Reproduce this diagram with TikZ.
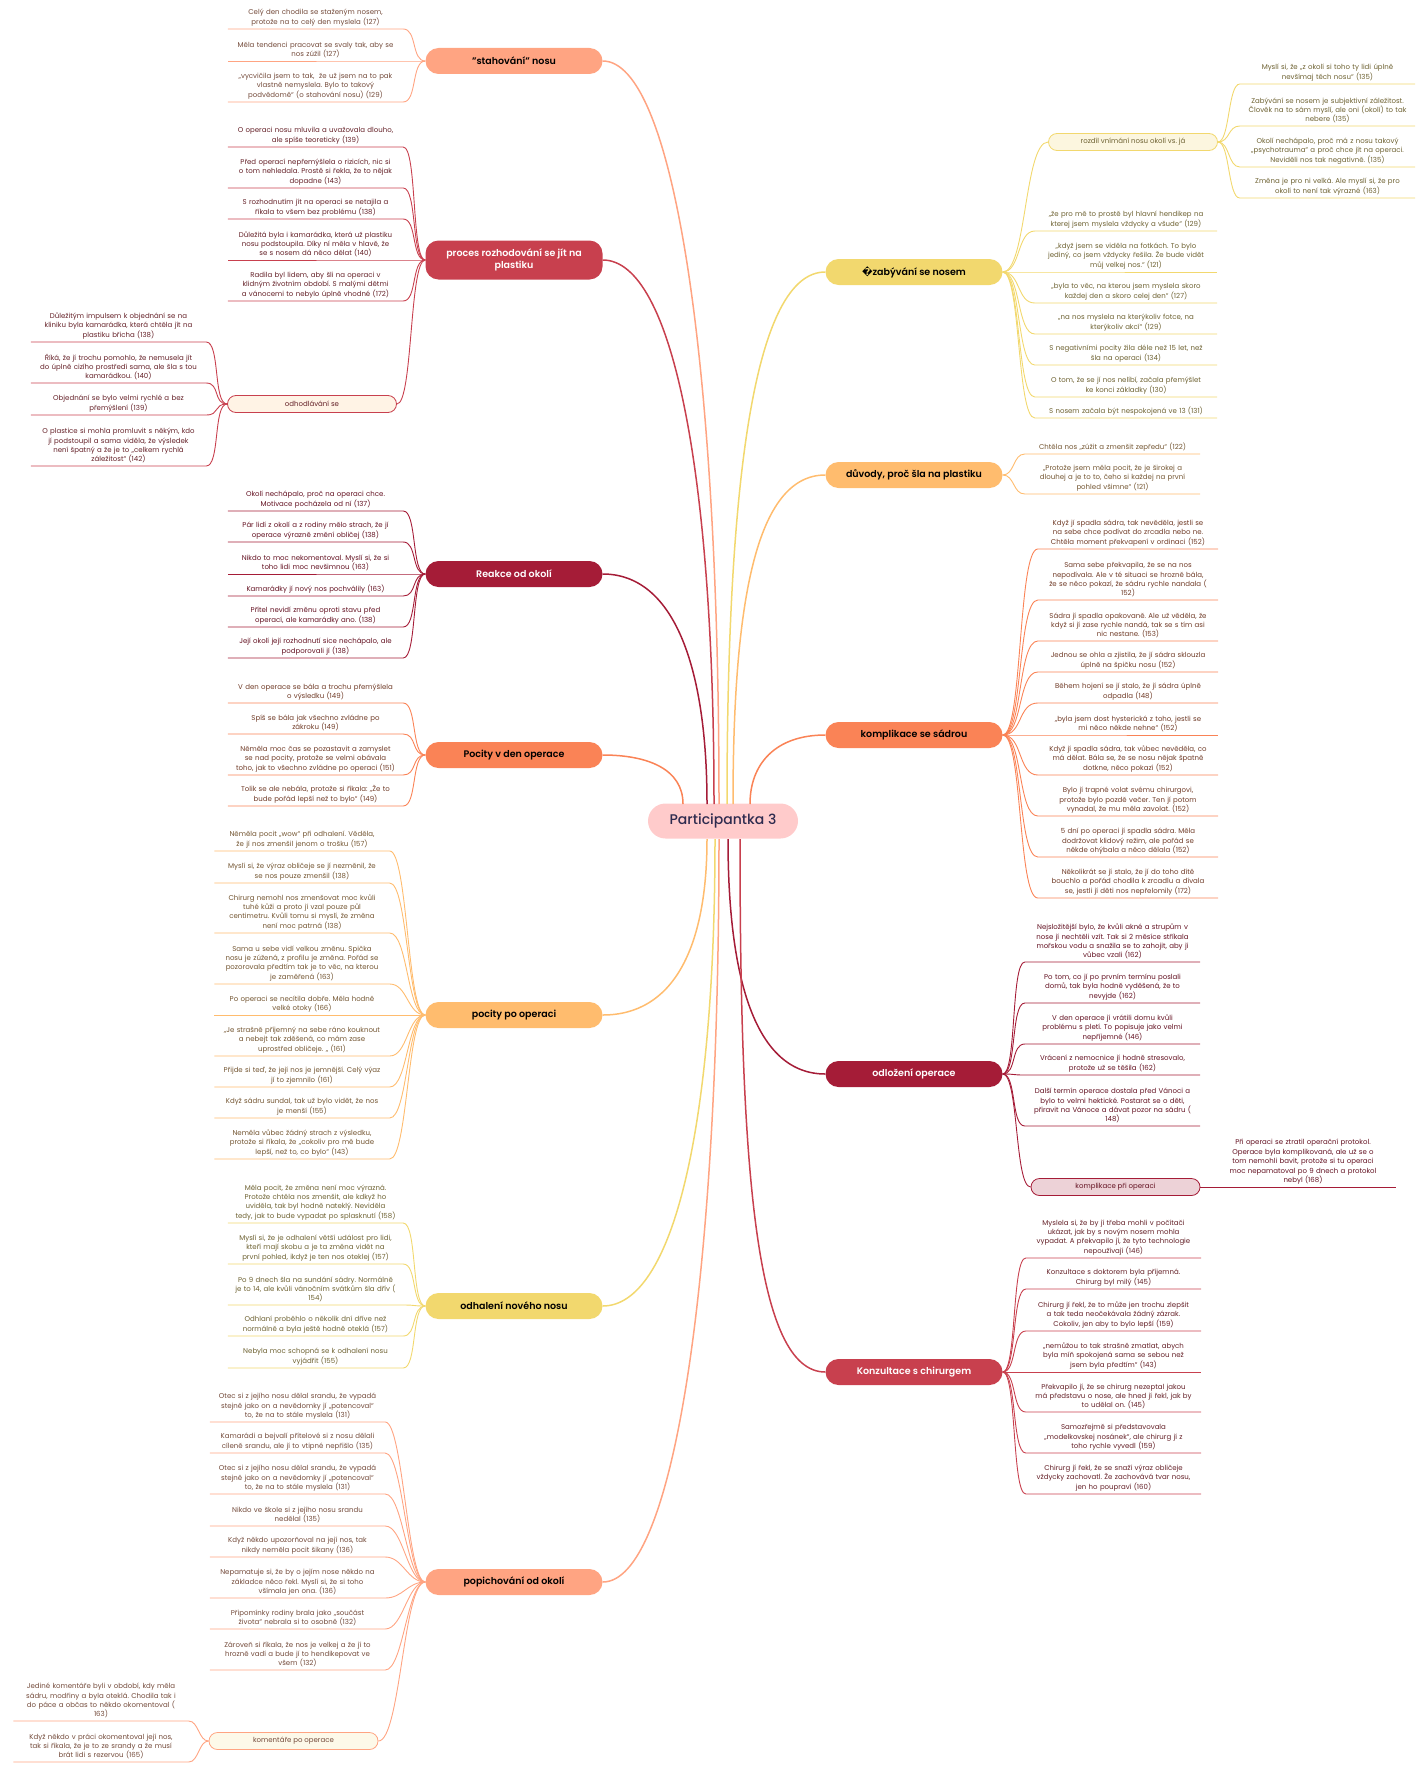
\documentclass[tikz,border=0pt]{standalone}
\usepackage{fontspec}
\setmainfont{Poppins}[BoldFont={Poppins SemiBold}]
\newfontfamily\medfont{Poppins Medium}
\newfontfamily\symfont{DejaVu Sans}
\usepackage{tikz}
\frenchspacing

\definecolor{cPink}{HTML}{FFCBCB}
\definecolor{cNavy}{HTML}{2E2B4F}
\definecolor{cSalmon}{HTML}{FFA482}
\definecolor{cRed}{HTML}{C8404E}
\definecolor{cCrimson}{HTML}{A51C37}
\definecolor{cOrange}{HTML}{FA8356}
\definecolor{cApricot}{HTML}{FFBC6E}
\definecolor{cYellow}{HTML}{F2D86E}
\colorlet{tSalmon}{cSalmon!45!black}
\colorlet{tRed}{cRed!50!black}
\colorlet{tCrimson}{cCrimson!60!black}
\colorlet{tOrange}{cOrange!45!black}
\colorlet{tApricot}{cApricot!45!black}
\colorlet{tYellow}{cYellow!45!black}

\begin{document}
\begin{tikzpicture}[x=1pt, y=-1pt,
        leafnode/.style={anchor=south, text width=171pt, inner xsep=2pt, inner ysep=2.6pt, align=center, font=\fontsize{7}{9.4}\selectfont, text=#1},
        topic/.style={fill=#1, rounded corners=13pt, minimum width=177pt, minimum height=26pt, inner sep=0pt, align=center, font=\fontsize{9.5}{12}\selectfont\bfseries},
        subtopic/.style={draw=#1, line width=0.8pt, rounded corners=8.5pt, minimum width=169pt, minimum height=17pt, inner sep=0pt, font=\fontsize{7}{9}\selectfont},
        trunkline/.style={draw=#1, line width=1.5pt},
        twigline/.style={draw=#1, line width=0.9pt}]
    \useasboundingbox (0,0) rectangle (1422,1766);

    % centre
    \node[fill=cPink, rounded corners=17.5pt, minimum width=150pt, minimum height=35pt, text=cNavy, font=\medfont\fontsize{14}{16}\selectfont] (p3) at (723,821) {Participantka 3};

    % "stahovani" nosu
    \node[topic=cSalmon] (stah) at (514,61) {"stahování" nosu};
    \draw[trunkline=cSalmon] (719,804) .. controls +(0,-450) and +(70,0) .. (stah.east);
    \node[leafnode=tSalmon] (stah1) at (315.5,29) {Celý den chodila se staženým nosem,\\protože na to celý den myslela (127)};
    \node[leafnode=tSalmon] (stah2) at (315.5,61) {Měla tendenci pracovat se svaly tak, aby se\\nos zúžil (127)};
    \node[leafnode=tSalmon] (stah3) at (315.5,102) {„vycvičila jsem to tak,~ že už jsem na to pak\\vlastně nemyslela. Bylo to takový\\podvědomě“ (o stahování nosu) (129)};
    \draw[twigline=cSalmon] (stah.west) .. controls +(-14,0) and +(14,0) .. (stah1.south east) -- (stah1.south west);
    \draw[twigline=cSalmon] (stah.west) .. controls +(-14,0) and +(14,0) .. (stah2.south east) -- (stah2.south west);
    \draw[twigline=cSalmon] (stah.west) .. controls +(-14,0) and +(14,0) .. (stah3.south east) -- (stah3.south west);

    % proces rozhodovani
    \node[topic=cRed, text=white, minimum height=39pt] (proc) at (514,260) {proces rozhodování se jít na\\plastiku};
    \draw[trunkline=cRed] (714,804) .. controls +(0,-330) and +(70,0) .. (proc.east);
    \node[leafnode=tRed] (proc1) at (315.5,147) {O operaci nosu mluvila a uvažovala dlouho,\\ale spíše teoreticky (139)};
    \node[leafnode=tRed] (proc2) at (315.5,188) {Před operací nepřemýšlela o rizicích, nic si\\o tom nehledala. Prostě si řekla, že to nějak\\dopadne (143)};
    \node[leafnode=tRed] (proc3) at (315.5,219) {S rozhodnutím jít na operaci se netajila a\\říkala to všem bez problému (138)};
    \node[leafnode=tRed] (proc4) at (315.5,260) {Důležitá byla i kamarádka, která už plastiku\\nosu podstoupila. Díky ní měla v hlavě, že\\se s nosem dá něco dělat (140)};
    \node[leafnode=tRed] (proc5) at (315.5,301) {Radila byl lidem, aby šli na operaci v\\klidným životním období. S malými dětmi\\a vánocemi to nebylo úplně vhodné (172)};
    \draw[twigline=cRed] (proc.west) .. controls +(-14,0) and +(14,0) .. (proc1.south east) -- (proc1.south west);
    \draw[twigline=cRed] (proc.west) .. controls +(-14,0) and +(14,0) .. (proc2.south east) -- (proc2.south west);
    \draw[twigline=cRed] (proc.west) .. controls +(-14,0) and +(14,0) .. (proc3.south east) -- (proc3.south west);
    \draw[twigline=cRed] (proc.west) .. controls +(-14,0) and +(14,0) .. (proc4.south east) -- (proc4.south west);
    \draw[twigline=cRed] (proc.west) .. controls +(-14,0) and +(14,0) .. (proc5.south east) -- (proc5.south west);

    % odhodlavani se
    \node[subtopic=cRed, fill=cApricot!18, text=tRed] (odhod) at (312,404) {odhodlávání se};
    \draw[twigline=cRed] (proc.west) .. controls +(-16,0) and +(16,0) .. (odhod.east);
    \node[leafnode=tRed] (odhod1) at (118.5,342) {Důležitým impulsem k objednání se na\\kliniku byla kamarádka, která chtěla jít na\\plastiku břicha (138)};
    \node[leafnode=tRed] (odhod2) at (118.5,383) {Říká, že jí trochu pomohlo, že nemusela jít\\do úplně cizího prostředí sama, ale šla s tou\\kamarádkou. (140)};
    \node[leafnode=tRed] (odhod3) at (118.5,415) {Objednání se bylo velmi rychlé a bez\\přemýšlení (139)};
    \node[leafnode=tRed] (odhod4) at (118.5,466) {O plastice si mohla promluvit s někým, kdo\\jí podstoupil a sama viděla, že výsledek\\není špatný a že je to „celkem rychlá\\záležitost“ (142)};
    \draw[twigline=cRed] (odhod.west) .. controls +(-14,0) and +(14,0) .. (odhod1.south east) -- (odhod1.south west);
    \draw[twigline=cRed] (odhod.west) .. controls +(-14,0) and +(14,0) .. (odhod2.south east) -- (odhod2.south west);
    \draw[twigline=cRed] (odhod.west) .. controls +(-14,0) and +(14,0) .. (odhod3.south east) -- (odhod3.south west);
    \draw[twigline=cRed] (odhod.west) .. controls +(-14,0) and +(14,0) .. (odhod4.south east) -- (odhod4.south west);

    % Reakce od okoli
    \node[topic=cCrimson, text=white] (reak) at (514,574) {Reakce od okolí};
    \draw[trunkline=cCrimson] (707,804) .. controls +(0,-140) and +(70,0) .. (reak.east);
    \node[leafnode=tCrimson] (reak1) at (315.5,511) {Okolí nechápalo, proč na operaci chce.\\Motivace pocházela od ní (137)};
    \node[leafnode=tCrimson] (reak2) at (315.5,542) {Pár lidí z okolí a z rodiny mělo strach, že jí\\operace výrazně změní obličej (138)};
    \node[leafnode=tCrimson] (reak3) at (315.5,574) {Nikdo to moc nekomentoval. Myslí si, že si\\toho lidi moc nevšimnou (163)};
    \node[leafnode=tCrimson] (reak4) at (315.5,596) {Kamarádky jí nový nos pochválily (163)};
    \node[leafnode=tCrimson] (reak5) at (315.5,627) {Přítel nevidí změnu oproti stavu před\\operací, ale kamarádky ano. (138)};
    \node[leafnode=tCrimson] (reak6) at (315.5,658) {Její okolí její rozhodnutí sice nechápalo, ale\\podporovali jí (138)};
    \draw[twigline=cCrimson] (reak.west) .. controls +(-14,0) and +(14,0) .. (reak1.south east) -- (reak1.south west);
    \draw[twigline=cCrimson] (reak.west) .. controls +(-14,0) and +(14,0) .. (reak2.south east) -- (reak2.south west);
    \draw[twigline=cCrimson] (reak.west) .. controls +(-14,0) and +(14,0) .. (reak3.south east) -- (reak3.south west);
    \draw[twigline=cCrimson] (reak.west) .. controls +(-14,0) and +(14,0) .. (reak4.south east) -- (reak4.south west);
    \draw[twigline=cCrimson] (reak.west) .. controls +(-14,0) and +(14,0) .. (reak5.south east) -- (reak5.south west);
    \draw[twigline=cCrimson] (reak.west) .. controls +(-14,0) and +(14,0) .. (reak6.south east) -- (reak6.south west);

    % Pocity v den operace
    \node[topic=cOrange] (pden) at (514,755) {Pocity v den operace};
    \draw[trunkline=cOrange] (683,804) .. controls +(0,-35) and +(45,0) .. (pden.east);
    \node[leafnode=tOrange] (pden1) at (315.5,703) {V den operace se bála a trochu přemýšlela\\o výsledku (149)};
    \node[leafnode=tOrange] (pden2) at (315.5,734) {Spíš se bála jak všechno zvládne po\\zákroku (149)};
    \node[leafnode=tOrange] (pden3) at (315.5,775) {Něměla moc čas se pozastavit a zamyslet\\se nad pocity, protože se velmi obávala\\toho, jak to všechno zvládne po operaci (151)};
    \node[leafnode=tOrange] (pden4) at (315.5,806) {Tolik se ale nebála, protože si říkala: „Že to\\bude pořád lepší než to bylo“ (149)};
    \draw[twigline=cOrange] (pden.west) .. controls +(-14,0) and +(14,0) .. (pden1.south east) -- (pden1.south west);
    \draw[twigline=cOrange] (pden.west) .. controls +(-14,0) and +(14,0) .. (pden2.south east) -- (pden2.south west);
    \draw[twigline=cOrange] (pden.west) .. controls +(-14,0) and +(14,0) .. (pden3.south east) -- (pden3.south west);
    \draw[twigline=cOrange] (pden.west) .. controls +(-14,0) and +(14,0) .. (pden4.south east) -- (pden4.south west);

    % pocity po operaci
    \node[topic=cApricot] (ppo) at (514,1015) {pocity po operaci};
    \draw[trunkline=cApricot] (707,839) .. controls +(0,110) and +(70,0) .. (ppo.east);
    \node[leafnode=tApricot] (ppo1) at (302,851) {Něměla pocit „wow“ při odhalení. Věděla,\\že jí nos zmenšil jenom o trošku (157)};
    \node[leafnode=tApricot] (ppo2) at (302,883) {Myslí si, že výraz obličeje se jí nezměnil, že\\se nos pouze zmenšil (138)};
    \node[leafnode=tApricot] (ppo3) at (302,933) {Chirurg nemohl nos zmenšovat moc kvůli\\tuhé kůži a proto jí vzal pouze půl\\centimetru. Kvůli tomu si myslí, že změna\\není moc patrná (138)};
    \node[leafnode=tApricot] (ppo4) at (302,984) {Sama u sebe vidí velkou změnu. Spička\\nosu je zúžená, z profilu je změna. Pořád se\\pozorovala předtím tak je to věc, na kterou\\je zaměřená (163)};
    \node[leafnode=tApricot] (ppo5) at (302,1015) {Po operaci se necítila dobře. Měla hodně\\velké otoky (166)};
    \node[leafnode=tApricot] (ppo6) at (302,1056) {„Je strašně příjemný na sebe ráno kouknout\\a nebejt tak zděšená, co mám zase\\uprostřed obličeje. „ (161)};
    \node[leafnode=tApricot] (ppo7) at (302,1087) {Přijde si teď, že její nos je jemnější. Celý výaz\\jí to zjemnilo (161)};
    \node[leafnode=tApricot] (ppo8) at (302,1118) {Když sádru sundal, tak už bylo vidět, že nos\\je menší (155)};
    \node[leafnode=tApricot] (ppo9) at (302,1159) {Neměla vůbec žádný strach z výsledku,\\protože si říkala, že „cokoliv pro mě bude\\lepší, než to, co bylo“ (143)};
    \draw[twigline=cApricot] (ppo.west) .. controls +(-18,0) and +(18,0) .. (ppo1.south east) -- (ppo1.south west);
    \draw[twigline=cApricot] (ppo.west) .. controls +(-18,0) and +(18,0) .. (ppo2.south east) -- (ppo2.south west);
    \draw[twigline=cApricot] (ppo.west) .. controls +(-18,0) and +(18,0) .. (ppo3.south east) -- (ppo3.south west);
    \draw[twigline=cApricot] (ppo.west) .. controls +(-18,0) and +(18,0) .. (ppo4.south east) -- (ppo4.south west);
    \draw[twigline=cApricot] (ppo.west) .. controls +(-18,0) and +(18,0) .. (ppo5.south east) -- (ppo5.south west);
    \draw[twigline=cApricot] (ppo.west) .. controls +(-18,0) and +(18,0) .. (ppo6.south east) -- (ppo6.south west);
    \draw[twigline=cApricot] (ppo.west) .. controls +(-18,0) and +(18,0) .. (ppo7.south east) -- (ppo7.south west);
    \draw[twigline=cApricot] (ppo.west) .. controls +(-18,0) and +(18,0) .. (ppo8.south east) -- (ppo8.south west);
    \draw[twigline=cApricot] (ppo.west) .. controls +(-18,0) and +(18,0) .. (ppo9.south east) -- (ppo9.south west);

    % odhaleni noveho nosu
    \node[topic=cYellow] (odh) at (514,1306) {odhalení nového nosu};
    \draw[trunkline=cYellow] (715,839) .. controls +(0,290) and +(70,0) .. (odh.east);
    \node[leafnode=tYellow] (odh1) at (315.5,1223) {Měla pocit, že změna není moc výrazná.\\Protože chtěla nos zmenšit, ale kdkyž ho\\uviděla, tak byl hodně nateklý. Neviděla\\tedy, jak to bude vypadat po splasknutí (158)};
    \node[leafnode=tYellow] (odh2) at (315.5,1264) {Myslí si, že je odhalení větší událost pro lidi,\\kteří mají skobu a je ta změna vidět na\\první pohled, ikdyž je ten nos oteklej (157)};
    \node[leafnode=tYellow] (odh3) at (315.5,1305) {Po 9 dnech šla na sundání sádry. Normálně\\je to 14, ale kvůli vánočním svátkům šla dřív (\\154)};
    \node[leafnode=tYellow] (odh4) at (315.5,1336) {Odhlaní proběhlo o několik dní dříve než\\normálně a byla ještě hodně oteklá (157)};
    \node[leafnode=tYellow] (odh5) at (315.5,1368) {Nebyla moc schopná se k odhalení nosu\\vyjádřit (155)};
    \draw[twigline=cYellow] (odh.west) .. controls +(-14,0) and +(14,0) .. (odh1.south east) -- (odh1.south west);
    \draw[twigline=cYellow] (odh.west) .. controls +(-14,0) and +(14,0) .. (odh2.south east) -- (odh2.south west);
    \draw[twigline=cYellow] (odh.west) .. controls +(-14,0) and +(14,0) .. (odh3.south east) -- (odh3.south west);
    \draw[twigline=cYellow] (odh.west) .. controls +(-14,0) and +(14,0) .. (odh4.south east) -- (odh4.south west);
    \draw[twigline=cYellow] (odh.west) .. controls +(-14,0) and +(14,0) .. (odh5.south east) -- (odh5.south west);

    % popichovani od okoli
    \node[topic=cSalmon] (pop) at (514,1582) {popichování od okolí};
    \draw[trunkline=cSalmon] (719,839) .. controls +(0,450) and +(70,0) .. (pop.east);
    \node[leafnode=tSalmon] (pop1) at (297.5,1422) {Otec si z jejího nosu dělal srandu, že vypadá\\stejně jako on a nevědomky jí „potencoval“\\to, že na to stále myslela (131)};
    \node[leafnode=tSalmon] (pop2) at (297.5,1453) {Kamarádi a bejvalí přítelové si z nosu dělali\\cíleně srandu, ale jí to vtipné nepřišlo (135)};
    \node[leafnode=tSalmon] (pop3) at (297.5,1494) {Otec si z jejího nosu dělal srandu, že vypadá\\stejně jako on a nevědomky jí „potencoval“\\to, že na to stále myslela (131)};
    \node[leafnode=tSalmon] (pop4) at (297.5,1526) {Nikdo ve škole si z jejího nosu srandu\\nedělal (135)};
    \node[leafnode=tSalmon] (pop5) at (297.5,1557) {Když někdo upozorňoval na její nos, tak\\nikdy neměla pocit šikany (136)};
    \node[leafnode=tSalmon] (pop6) at (297.5,1598) {Nepamatuje si, že by o jejím nose někdo na\\základce něco řekl. Myslí si, že si toho\\všímala jen ona. (136)};
    \node[leafnode=tSalmon] (pop7) at (297.5,1629) {Připomínky rodiny brala jako „součást\\života“ nebrala si to osobně (132)};
    \node[leafnode=tSalmon] (pop8) at (297.5,1670) {Zároveň si říkala, že nos je velkej a že jí to\\hrozně vadí a bude jí to hendikepovat ve\\všem (132)};
    \draw[twigline=cSalmon] (pop.west) .. controls +(-18,0) and +(18,0) .. (pop1.south east) -- (pop1.south west);
    \draw[twigline=cSalmon] (pop.west) .. controls +(-18,0) and +(18,0) .. (pop2.south east) -- (pop2.south west);
    \draw[twigline=cSalmon] (pop.west) .. controls +(-18,0) and +(18,0) .. (pop3.south east) -- (pop3.south west);
    \draw[twigline=cSalmon] (pop.west) .. controls +(-18,0) and +(18,0) .. (pop4.south east) -- (pop4.south west);
    \draw[twigline=cSalmon] (pop.west) .. controls +(-18,0) and +(18,0) .. (pop5.south east) -- (pop5.south west);
    \draw[twigline=cSalmon] (pop.west) .. controls +(-18,0) and +(18,0) .. (pop6.south east) -- (pop6.south west);
    \draw[twigline=cSalmon] (pop.west) .. controls +(-18,0) and +(18,0) .. (pop7.south east) -- (pop7.south west);
    \draw[twigline=cSalmon] (pop.west) .. controls +(-18,0) and +(18,0) .. (pop8.south east) -- (pop8.south west);

    % komentare po operace
    \node[subtopic=cSalmon, fill=cYellow!15, text=tSalmon] (kom) at (293.5,1741) {komentáře po operace};
    \draw[twigline=cSalmon] (pop.west) .. controls +(-22,0) and +(22,0) .. (kom.east);
    \node[leafnode=tSalmon] (kom1) at (101,1721) {Jediné komentáře byli v období, kdy měla\\sádru, modřiny a byla oteklá. Chodila tak i\\do páce a občas to někdo okomentoval (\\163)};
    \node[leafnode=tSalmon] (kom2) at (101,1762) {Když někdo v práci okomentoval její nos,\\tak si říkala, že je to ze srandy a že musí\\brát lidi s rezervou (165)};
    \draw[twigline=cSalmon] (kom.west) .. controls +(-10,0) and +(10,0) .. (kom1.south east) -- (kom1.south west);
    \draw[twigline=cSalmon] (kom.west) .. controls +(-10,0) and +(10,0) .. (kom2.south east) -- (kom2.south west);

    % zabyvani se nosem
    \node[topic=cYellow] (zab) at (914,272) {{\symfont\bfseries ^^^^fffd}zabývání se nosem};
    \draw[trunkline=cYellow] (727,804) .. controls +(0,-330) and +(-70,0) .. (zab.west);
    \node[leafnode=tYellow, text width=178pt] (zab1) at (1126,231) {„že pro mě to prostě byl hlavní hendikep na\\kterej jsem myslela vždycky a všude“ (129)};
    \node[leafnode=tYellow, text width=178pt] (zab2) at (1126,272) {„když jsem se viděla na fotkách. To bylo\\jediný, co jsem vždycky řešila. Že bude vidět\\můj velkej nos.“ (121)};
    \node[leafnode=tYellow, text width=178pt] (zab3) at (1126,303) {„byla to věc, na kterou jsem myslela skoro\\každej den a skoro celej den“ (127)};
    \node[leafnode=tYellow, text width=178pt] (zab4) at (1126,334) {„na nos myslela na kterýkoliv fotce, na\\kterýkoliv akcí“ (129)};
    \node[leafnode=tYellow, text width=178pt] (zab5) at (1126,365) {S negativními pocity žila déle než 15 let, než\\šla na operaci (134)};
    \node[leafnode=tYellow, text width=178pt] (zab6) at (1126,397) {O tom, že se jí nos nelíbí, začala přemýšlet\\ke konci základky (130)};
    \node[leafnode=tYellow, text width=178pt] (zab7) at (1126,418) {S nosem začala být nespokojená ve 13 (131)};
    \draw[twigline=cYellow] (zab.east) .. controls +(18,0) and +(-18,0) .. (zab1.south west) -- (zab1.south east);
    \draw[twigline=cYellow] (zab.east) .. controls +(18,0) and +(-18,0) .. (zab2.south west) -- (zab2.south east);
    \draw[twigline=cYellow] (zab.east) .. controls +(18,0) and +(-18,0) .. (zab3.south west) -- (zab3.south east);
    \draw[twigline=cYellow] (zab.east) .. controls +(18,0) and +(-18,0) .. (zab4.south west) -- (zab4.south east);
    \draw[twigline=cYellow] (zab.east) .. controls +(18,0) and +(-18,0) .. (zab5.south west) -- (zab5.south east);
    \draw[twigline=cYellow] (zab.east) .. controls +(18,0) and +(-18,0) .. (zab6.south west) -- (zab6.south east);
    \draw[twigline=cYellow] (zab.east) .. controls +(18,0) and +(-18,0) .. (zab7.south west) -- (zab7.south east);

    % rozdil vnimani
    \node[subtopic=cYellow, fill=cYellow!22, text=tYellow] (rozd) at (1133,142) {rozdíl vnímání nosu okolí vs. já};
    \draw[twigline=cYellow] (zab.east) .. controls +(24,0) and +(-24,0) .. (rozd.west);
    \node[leafnode=tYellow] (rozd1) at (1327.5,84) {Myslí si, že „z okolí si toho ty lidi úplně\\nevšímaj těch nosu“ (135)};
    \node[leafnode=tYellow] (rozd2) at (1327.5,126) {Zabývání se nosem je subjektivní záležitost.\\Člověk na to sám myslí, ale oni (okolí) to tak\\nebere (135)};
    \node[leafnode=tYellow] (rozd3) at (1327.5,167) {Okolí nechápalo, proč má z nosu takový\\„psychotrauma“ a proč chce jít na operaci.\\Neviděli nos tak negativně. (135)};
    \node[leafnode=tYellow] (rozd4) at (1327.5,198) {Změna je pro ni velká. Ale myslí si, že pro\\okolí to není tak výrazné (163)};
    \draw[twigline=cYellow] (rozd.east) .. controls +(12,0) and +(-12,0) .. (rozd1.south west) -- (rozd1.south east);
    \draw[twigline=cYellow] (rozd.east) .. controls +(12,0) and +(-12,0) .. (rozd2.south west) -- (rozd2.south east);
    \draw[twigline=cYellow] (rozd.east) .. controls +(12,0) and +(-12,0) .. (rozd3.south west) -- (rozd3.south east);
    \draw[twigline=cYellow] (rozd.east) .. controls +(12,0) and +(-12,0) .. (rozd4.south west) -- (rozd4.south east);

    % duvody
    \node[topic=cApricot] (duv) at (914,475) {důvody, proč šla na plastiku};
    \draw[trunkline=cApricot] (733,804) .. controls +(0,-200) and +(-70,0) .. (duv.west);
    \node[leafnode=tApricot] (duv1) at (1112.5,454) {Chtěla nos „zúžit a zmenšit zepředu“ (122)};
    \node[leafnode=tApricot] (duv2) at (1112.5,494) {„Protože jsem měla pocit, že je širokej a\\dlouhej a je to to, čeho si každej na první\\pohled všimne“ (121)};
    \draw[twigline=cApricot] (duv.east) .. controls +(12,0) and +(-12,0) .. (duv1.south west) -- (duv1.south east);
    \draw[twigline=cApricot] (duv.east) .. controls +(12,0) and +(-12,0) .. (duv2.south west) -- (duv2.south east);

    % komplikace se sadrou
    \node[topic=cOrange] (kompl) at (914,735) {komplikace se sádrou};
    \draw[trunkline=cOrange] (750,804) .. controls +(0,-40) and +(-50,0) .. (kompl.west);
    \node[leafnode=tOrange, text width=176pt] (kompl1) at (1128,549) {Když jí spadla sádra, tak nevěděla, jestli se\\na sebe chce podívat do zrcadla nebo ne.\\Chtěla moment překvapení v ordinaci (152)};
    \node[leafnode=tOrange, text width=176pt] (kompl2) at (1128,600) {Sama sebe překvapila, že se na nos\\nepodívala. Ale v té situaci se hrozně bála,\\že se něco pokazí, že sádru rychle nandala (\\152)};
    \node[leafnode=tOrange, text width=176pt] (kompl3) at (1128,641) {Sádra jí spadla opakovaně. Ale už věděla, že\\když si jí zase rychle nandá, tak se s tím asi\\nic nestane. (153)};
    \node[leafnode=tOrange, text width=176pt] (kompl4) at (1128,672) {Jednou se ohla a zjistila, že jí sádra sklouzla\\úplně na špičku nosu (152)};
    \node[leafnode=tOrange, text width=176pt] (kompl5) at (1128,703) {Během hojení se jí stalo, že jí sádra úplně\\odpadla (148)};
    \node[leafnode=tOrange, text width=176pt] (kompl6) at (1128,735) {„byla jsem dost hysterická z toho, jestli se\\mi něco někde nehne“ (152)};
    \node[leafnode=tOrange, text width=176pt] (kompl7) at (1128,775) {Když jí spadla sádra, tak vůbec nevěděla, co\\má dělat. Bála se, že se nosu nějak špatně\\dotkne, něco pokazí (152)};
    \node[leafnode=tOrange, text width=176pt] (kompl8) at (1128,816) {Bylo jí trapné volat svému chirurgovi,\\protože bylo pozdě večer. Ten jí potom\\vynadal, že mu měla zavolat. (152)};
    \node[leafnode=tOrange, text width=176pt] (kompl9) at (1128,857) {5 dní po operaci jí spadla sádra. Měla\\dodržovat klidový režim, ale pořád se\\někde ohýbala a něco dělala (152)};
    \node[leafnode=tOrange, text width=176pt] (kompl10) at (1128,898) {Několikrát se jí stalo, že jí do toho dítě\\bouchlo a pořád chodila k zrcadlu a dívala\\se, jestli jí děti nos nepřelomily (172)};
    \draw[twigline=cOrange] (kompl.east) .. controls +(20,0) and +(-20,0) .. (kompl1.south west) -- (kompl1.south east);
    \draw[twigline=cOrange] (kompl.east) .. controls +(20,0) and +(-20,0) .. (kompl2.south west) -- (kompl2.south east);
    \draw[twigline=cOrange] (kompl.east) .. controls +(20,0) and +(-20,0) .. (kompl3.south west) -- (kompl3.south east);
    \draw[twigline=cOrange] (kompl.east) .. controls +(20,0) and +(-20,0) .. (kompl4.south west) -- (kompl4.south east);
    \draw[twigline=cOrange] (kompl.east) .. controls +(20,0) and +(-20,0) .. (kompl5.south west) -- (kompl5.south east);
    \draw[twigline=cOrange] (kompl.east) .. controls +(20,0) and +(-20,0) .. (kompl6.south west) -- (kompl6.south east);
    \draw[twigline=cOrange] (kompl.east) .. controls +(20,0) and +(-20,0) .. (kompl7.south west) -- (kompl7.south east);
    \draw[twigline=cOrange] (kompl.east) .. controls +(20,0) and +(-20,0) .. (kompl8.south west) -- (kompl8.south east);
    \draw[twigline=cOrange] (kompl.east) .. controls +(20,0) and +(-20,0) .. (kompl9.south west) -- (kompl9.south east);
    \draw[twigline=cOrange] (kompl.east) .. controls +(20,0) and +(-20,0) .. (kompl10.south west) -- (kompl10.south east);

    % odlozeni operace
    \node[topic=cCrimson, text=white] (odl) at (914,1074) {odložení operace};
    \draw[trunkline=cCrimson] (728,839) .. controls +(0,140) and +(-70,0) .. (odl.west);
    \node[leafnode=tCrimson] (odl1) at (1112.5,962) {Nejsložitější bylo, že kvůli akné a strupům v\\nose jí nechtěli vzít. Tak si 2 měsíce stříkala\\mořskou vodu a snažila se to zahojit, aby jí\\vůbec vzali (162)};
    \node[leafnode=tCrimson] (odl2) at (1112.5,1003) {Po tom, co jí po prvním termínu poslali\\domů, tak byla hodně vyděšená, že to\\nevyjde (162)};
    \node[leafnode=tCrimson] (odl3) at (1112.5,1044) {V den operace jí vrátili domu kvůli\\problému s pletí. To popisuje jako velmi\\nepříjemné (146)};
    \node[leafnode=tCrimson] (odl4) at (1112.5,1075) {Vrácení z nemocnice jí hodně stresovalo,\\protože už se těšila (162)};
    \node[leafnode=tCrimson] (odl5) at (1112.5,1126) {Další termín operace dostala před Vánoci a\\bylo to velmi hektické. Postarat se o děti,\\přiravit na Vánoce a dávat pozor na sádru (\\148)};
    \draw[twigline=cCrimson] (odl.east) .. controls +(14,0) and +(-14,0) .. (odl1.south west) -- (odl1.south east);
    \draw[twigline=cCrimson] (odl.east) .. controls +(14,0) and +(-14,0) .. (odl2.south west) -- (odl2.south east);
    \draw[twigline=cCrimson] (odl.east) .. controls +(14,0) and +(-14,0) .. (odl3.south west) -- (odl3.south east);
    \draw[twigline=cCrimson] (odl.east) .. controls +(14,0) and +(-14,0) .. (odl4.south west) -- (odl4.south east);
    \draw[twigline=cCrimson] (odl.east) .. controls +(14,0) and +(-14,0) .. (odl5.south west) -- (odl5.south east);

    % komplikace pri operaci
    \node[subtopic=cCrimson, fill=cCrimson!20, text=tCrimson] (kpo) at (1115.5,1187) {komplikace při operaci};
    \draw[twigline=cCrimson] (odl.east) .. controls +(16,0) and +(-16,0) .. (kpo.west);
    \node[leafnode=tCrimson, text width=182pt] (kpo1) at (1303,1187) {Při operaci se ztratil operační protokol.\\Operace byla komplikovaná, ale už se o\\tom nemohli bavit, protože si tu operaci\\moc nepamatoval po 9 dnech a protokol\\nebyl (168)};
    \draw[twigline=cCrimson] (kpo.east) -- (kpo1.south west) -- (kpo1.south east);

    % Konzultace s chirurgem
    \node[topic=cRed, text=white] (konz) at (914,1372) {Konzultace s chirurgem};
    \draw[trunkline=cRed] (740,839) .. controls +(0,330) and +(-70,0) .. (konz.west);
    \node[leafnode=tRed] (konz1) at (1113.5,1258) {Myslela si, že by jí třeba mohli v počítači\\ukázat, jak by s novým nosem mohla\\vypadat. A překvapilo jí, že tyto technologie\\nepoužívají (146)};
    \node[leafnode=tRed] (konz2) at (1113.5,1289) {Konzultace s doktorem byla příjemná.\\Chirurg byl milý (145)};
    \node[leafnode=tRed] (konz3) at (1113.5,1331) {Chirurg jí řekl, že to může jen trochu zlepšit\\a tak teda neočekávala žádný zázrak.\\Cokoliv, jen aby to bylo lepší (159)};
    \node[leafnode=tRed] (konz4) at (1113.5,1372) {„nemůžou to tak strašně zmatlat, abych\\byla míň spokojená sama se sebou než\\jsem byla předtím“ (143)};
    \node[leafnode=tRed] (konz5) at (1113.5,1412) {Překvapilo jí, že se chirurg nezeptal jakou\\má představu o nose, ale hned jí řekl, jak by\\to udělal on. (145)};
    \node[leafnode=tRed] (konz6) at (1113.5,1453) {Samozřejmě si představovala\\„modelkovskej nosánek“, ale chirurg jí z\\toho rychle vyvedl (159)};
    \node[leafnode=tRed] (konz7) at (1113.5,1494) {Chirurg jí řekl, že se snaží výraz obličeje\\vždycky zachovatl. Že zachovává tvar nosu,\\jen ho poupraví (160)};
    \draw[twigline=cRed] (konz.east) .. controls +(14,0) and +(-14,0) .. (konz1.south west) -- (konz1.south east);
    \draw[twigline=cRed] (konz.east) .. controls +(14,0) and +(-14,0) .. (konz2.south west) -- (konz2.south east);
    \draw[twigline=cRed] (konz.east) .. controls +(14,0) and +(-14,0) .. (konz3.south west) -- (konz3.south east);
    \draw[twigline=cRed] (konz.east) .. controls +(14,0) and +(-14,0) .. (konz4.south west) -- (konz4.south east);
    \draw[twigline=cRed] (konz.east) .. controls +(14,0) and +(-14,0) .. (konz5.south west) -- (konz5.south east);
    \draw[twigline=cRed] (konz.east) .. controls +(14,0) and +(-14,0) .. (konz6.south west) -- (konz6.south east);
    \draw[twigline=cRed] (konz.east) .. controls +(14,0) and +(-14,0) .. (konz7.south west) -- (konz7.south east);
\end{tikzpicture}
\end{document}
